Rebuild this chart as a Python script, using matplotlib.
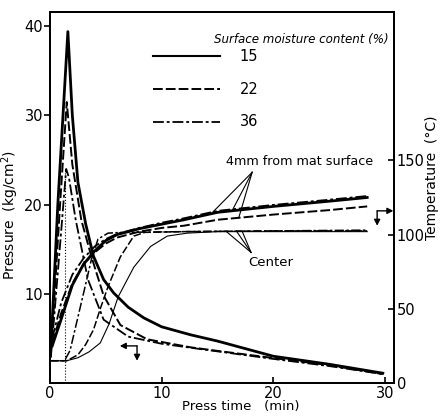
import numpy as np
import matplotlib
matplotlib.use("Agg")
import matplotlib.pyplot as plt

# ── Data ─────────────────────────────────────────────────────────────
moisture = ["15", "22", "36"]

# pressure (kg/cm2) vs press time (min)
t_p15 = [0.05, 0.7, 1.6, 2.0, 2.5, 3.2, 3.9, 4.8, 5.7, 7.0, 8.4, 10, 12.6, 15, 20, 25, 29.8]
p15 = [3.0, 20.0, 39.4, 30.0, 22.5, 17.8, 14.2, 11.6, 10.1, 8.5, 7.3, 6.3, 5.4, 4.7, 3.0, 2.1, 1.1]
t_p22 = [0.1, 0.9, 1.5, 2.0, 2.8, 3.7, 4.8, 6.3, 8.7, 12.6, 15, 20, 25, 29.8]
p22 = [3.5, 20.0, 31.5, 24.5, 18.3, 14.2, 9.8, 6.5, 4.9, 4.0, 3.6, 2.8, 2.0, 1.0]
t_p36 = [0.15, 1.0, 1.45, 1.7, 2.3, 3.4, 4.8, 7.0, 10, 13.5, 20, 25, 29.8]
p36 = [4.0, 17.0, 24.0, 23.0, 18.3, 11.6, 7.1, 5.2, 4.4, 3.8, 2.7, 1.9, 1.0]

# dotted marker line at press closing
t_close = 1.3
p_close = 24.0

# temperature 4 mm from mat surface (deg C)
t_4mm = [0.2, 1.0, 2.0, 3.0, 4.0, 5.0, 6.0, 8.0, 10, 12, 15, 20, 25, 28.4]
T4_15 = [25, 43, 66, 80, 89, 96, 100, 104, 107, 110, 115, 119, 122.5, 125]
T4_22 = [27, 47, 67, 80, 88, 94, 98, 102, 104.5, 106, 110, 113.5, 116.5, 119]
T4_36 = [30, 54, 73, 84, 92, 97, 100.5, 104.5, 108, 111, 116, 120, 123.5, 126]

# temperature at mat center (deg C)
t_c15 = [0, 1.5, 2.5, 3.5, 4.5, 5.3, 6.1, 7.5, 9.0, 10.5, 12.3, 15, 20, 28.4]
Tc_15 = [15, 15, 17, 21, 27, 40, 58, 78, 92, 99, 101, 102, 102, 102]
t_c22 = [0, 1.5, 2.5, 3.2, 3.9, 4.5, 5.2, 6.3, 7.5, 8.5, 12, 20, 28.4]
Tc_22 = [15, 15, 19, 26, 36, 50, 65, 85, 99, 101.5, 102, 102.5, 102.5]
t_c36 = [0, 1.3, 1.8, 2.3, 2.8, 3.3, 3.7, 4.3, 5.2, 6.5, 12, 20, 28.4]
Tc_36 = [15, 15, 22, 38, 54, 70, 83, 97, 101, 101.5, 102, 102.5, 103]

# ── Styles ───────────────────────────────────────────────────────────
DASH = (5, 1.6)
DASHDOT = (6, 1.6, 1.6, 1.6)

plt.rcParams["font.family"] = "DejaVu Sans"
plt.rcParams["font.size"] = 10

fig = plt.figure(figsize=(4.41, 4.16), dpi=100)
ax = fig.add_axes([50 / 441, 1 - 383 / 416, 344 / 441, 371 / 416])
ax2 = ax.twinx()

# pressure curves
ax.plot(t_p15, p15, "-", color="k", lw=2.0)
ax.plot(t_p22, p22, color="k", lw=1.4, dashes=DASH)
ax.plot(t_p36, p36, color="k", lw=1.3, dashes=DASHDOT)
ax.plot([t_close, t_close], [0, p_close], ":", color="k", lw=0.8)

# temperature curves
ax2.plot(t_4mm, T4_15, "-", color="k", lw=2.0)
ax2.plot(t_4mm, T4_22, color="k", lw=1.4, dashes=DASH)
ax2.plot(t_4mm, T4_36, color="k", lw=1.3, dashes=DASHDOT)
ax2.plot(t_c15, Tc_15, "-", color="k", lw=0.8)
ax2.plot(t_c22, Tc_22, color="k", lw=1.1, dashes=DASH)
ax2.plot(t_c36, Tc_36, color="k", lw=1.1, dashes=DASHDOT)

# ── Axes ─────────────────────────────────────────────────────────────
ax.set_xlim(0, 30.8)
ax.set_ylim(0, 41.6)
ax2.set_ylim(0, 250)
ax.set_xticks([0, 10, 20, 30])
ax.set_yticks([10, 20, 30, 40])
ax2.set_yticks([0, 50, 100, 150])
ax.tick_params(axis="y", direction="out", length=4, width=1.2, pad=1, labelsize=10.5)
ax.tick_params(axis="x", direction="in", length=4, width=1.2, pad=2, labelsize=10.5)
ax2.tick_params(axis="y", direction="in", length=4, width=1.2, pad=2, labelsize=10.5)
for a in (ax, ax2):
    for s in a.spines.values():
        s.set_linewidth(1.4)

ax.set_xlabel("Press time   (min)", fontsize=9.5)
ax.xaxis.set_label_coords(0.555, -0.046)
ax.set_ylabel("Pressure  (kg/cm$^2$)", fontsize=10, labelpad=2)
ax.yaxis.set_label_coords(-0.085, 0.453)
ax2.set_ylabel("Temperature  (°C)", fontsize=10, labelpad=4)
ax2.yaxis.set_label_coords(1.09, 0.553)

# ── Legend drawn by hand ─────────────────────────────────────────────
ax.text(0.478, 0.925, "Surface moisture content (%)", transform=ax.transAxes,
        fontsize=8.6, style="italic", va="center", ha="left")
leg_y = [0.881, 0.792, 0.704]
leg_style = [dict(lw=1.5), dict(lw=1.4, dashes=DASH), dict(lw=1.3, dashes=DASHDOT)]
for lab, y, st in zip(moisture, leg_y, leg_style):
    ax.plot([0.299, 0.494], [y, y], color="k", transform=ax.transAxes, **st)
    ax.text(0.552, y, lab, transform=ax.transAxes, fontsize=10.5, va="center", ha="left")

# ── Annotations ──────────────────────────────────────────────────────
ax2.text(22.3, 149, "4mm from mat surface", fontsize=9.2, ha="center", va="center")
apex = (18.1, 142)
for tt, curve in zip([14.6, 16.3, 16.9], [T4_36, T4_15, T4_22]):
    ax2.plot([apex[0], tt], [apex[1], np.interp(tt, t_4mm, curve)], "-", color="k", lw=0.8)

ax2.text(19.8, 81, "Center", fontsize=9.5, ha="center", va="center")
apex = (18.0, 88)
for tt, tc, curve in zip([15.8, 16.7, 17.2], [t_c15, t_c22, t_c36], [Tc_15, Tc_22, Tc_36]):
    ax2.plot([apex[0], tt], [apex[1], np.interp(tt, tc, curve)], "-", color="k", lw=0.8)

# bent arrows pointing to the pressure / temperature axes
arw = dict(arrowstyle="-|>,head_length=0.35,head_width=0.18", color="k", lw=1.0,
           shrinkA=0, shrinkB=0)
ax.annotate("", xy=(0.203, 0.100), xytext=(0.253, 0.100), xycoords="axes fraction",
            arrowprops=arw)
ax.annotate("", xy=(0.253, 0.060), xytext=(0.253, 0.100), xycoords="axes fraction",
            arrowprops=arw)
ax.annotate("", xy=(0.998, 0.464), xytext=(0.951, 0.464), xycoords="axes fraction",
            arrowprops=arw)
ax.annotate("", xy=(0.951, 0.424), xytext=(0.951, 0.464), xycoords="axes fraction",
            arrowprops=arw)

fig.savefig("out.png", dpi=100)
